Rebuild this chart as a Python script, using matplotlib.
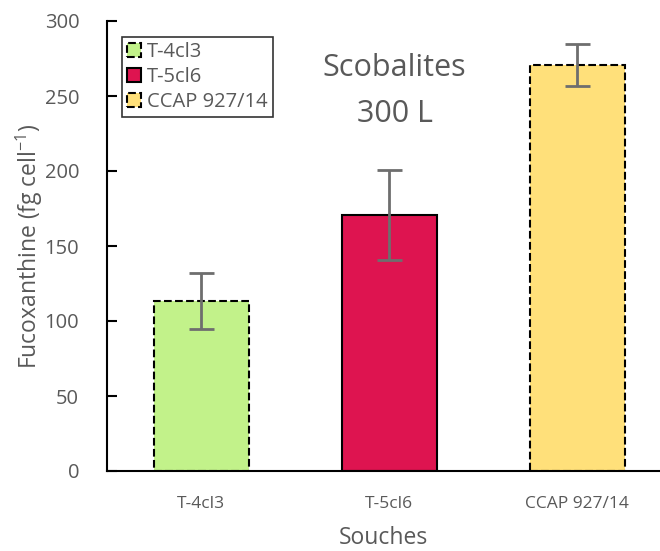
import matplotlib
matplotlib.use("Agg")
import matplotlib.pyplot as plt

categories = ["T-4cl3", "T-5cl6", "CCAP 927/14"]
values = [113.5, 170.5, 270.5]
errors = [18.5, 30.0, 14.0]
colors = ["#C2F28A", "#DE1450", "#FFE07A"]
linestyles = ["--", "-", "--"]

plt.rcParams['font.family'] = ['Open Sans', 'DejaVu Sans']
txt = "#595959"

fig = plt.figure(figsize=(6.6, 5.51), dpi=100)
ax = fig.add_axes([107/660, (551-471)/551, (660-107)/660, 450/551])

x = range(len(categories))
for i in x:
    ax.bar(i, values[i], width=0.505, color=colors[i], edgecolor="black",
           linewidth=1.5, linestyle=linestyles[i], label=categories[i], zorder=2)
    ax.errorbar(i, values[i], yerr=errors[i], color="#6E6E6E", capsize=9,
                elinewidth=2, capthick=2, zorder=3)

ax.set_xlim(-0.5, 2.44)
ax.set_ylim(0, 300)
ax.set_yticks(range(0, 301, 50))
ax.set_xticks(list(x))
ax.set_xticklabels(categories)
ax.tick_params(axis='y', direction='in', length=7, width=1.5, color='black',
               labelsize=14.5, labelcolor=txt, pad=20)
ax.tick_params(axis='x', length=0, labelsize=12.5, labelcolor=txt, pad=18)
for s in ["top", "right"]:
    ax.spines[s].set_visible(False)
for s in ["left", "bottom"]:
    ax.spines[s].set_linewidth(1.5)
    ax.spines[s].set_color("black")

ax.set_ylabel("Fucoxanthine (fg cell$^{\\mathregular{-1}}$)", fontsize=16.5, color=txt, labelpad=0)
ax.set_xlabel("Souches", fontsize=16.5, color=txt, labelpad=10)

ax.text(0.52, 0.845, "Scobalites\n300 L", transform=ax.transAxes, ha="center", va="center",
        fontsize=22, color=txt, linespacing=1.7)

leg = ax.legend(loc="upper left", bbox_to_anchor=(0.027, 0.964), frameon=True, fancybox=False,
                edgecolor="black", fontsize=14.5, handlelength=0.7, handleheight=0.7,
                handletextpad=0.3, labelspacing=0.25, borderpad=0.25, borderaxespad=0)
leg.get_frame().set_linewidth(1.2)
for t in leg.get_texts():
    t.set_color(txt)

fig.savefig("out.png", dpi=100)
